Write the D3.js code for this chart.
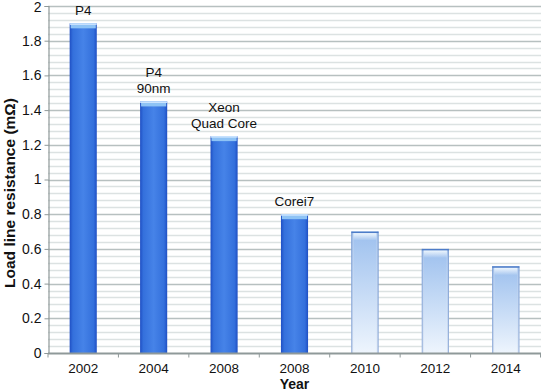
<!DOCTYPE html>
<html>
<head>
<meta charset="utf-8">
<script src="https://cdn.jsdelivr.net/npm/d3@7"></script>
<style>
  body { margin: 0; background: #fff; }
  svg { display: block; font-family: "Liberation Sans", Arial, sans-serif; }
</style>
</head>
<body>
<div id="chart"></div>
<script>
// chart data
var years = ["2002", "2004", "2008", "2008", "2010", "2012", "2014"];
var resistance = [1.9, 1.45, 1.25, 0.8, 0.7, 0.6, 0.5];
var projected = [false, false, false, false, true, true, true];
var barLabels = [["P4"], ["P4", "90nm"], ["Xeon", "Quad Core"], ["Corei7"], [], [], []];
var yTicks = [0, 0.2, 0.4, 0.6, 0.8, 1, 1.2, 1.4, 1.6, 1.8, 2];

var width = 541, height = 392;
var margin = {top: 6, right: 0, bottom: 39, left: 48};

var svg = d3.select("#chart").append("svg")
    .attr("width", width)
    .attr("height", height);

//**************************************************************************
//** Gradients
//**************************************************************************
var defs = svg.append("defs");

var dark = defs.append("linearGradient").attr("id", "darkBar")
    .attr("x1", 0).attr("x2", 1).attr("y1", 0).attr("y2", 0);
dark.append("stop").attr("offset", "0%").attr("stop-color", "#1f4fc4");
dark.append("stop").attr("offset", "12%").attr("stop-color", "#3470dc");
dark.append("stop").attr("offset", "50%").attr("stop-color", "#4683e8");
dark.append("stop").attr("offset", "88%").attr("stop-color", "#3470dc");
dark.append("stop").attr("offset", "100%").attr("stop-color", "#1f4fc4");

var light = defs.append("linearGradient").attr("id", "lightBar")
    .attr("x1", 0).attr("x2", 0).attr("y1", 0).attr("y2", 1);
light.append("stop").attr("offset", "0%").attr("stop-color", "#9dc0ee");
light.append("stop").attr("offset", "100%").attr("stop-color", "#eef5fd");

var lightEdge = defs.append("linearGradient").attr("id", "lightEdge")
    .attr("x1", 0).attr("x2", 1).attr("y1", 0).attr("y2", 0);
lightEdge.append("stop").attr("offset", "0%").attr("stop-color", "#5f86c6").attr("stop-opacity", 0.9);
lightEdge.append("stop").attr("offset", "10%").attr("stop-color", "#ffffff").attr("stop-opacity", 0);
lightEdge.append("stop").attr("offset", "90%").attr("stop-color", "#ffffff").attr("stop-opacity", 0);
lightEdge.append("stop").attr("offset", "100%").attr("stop-color", "#5f86c6").attr("stop-opacity", 0.9);

var cap = defs.append("linearGradient").attr("id", "cap")
    .attr("x1", 0).attr("x2", 0).attr("y1", 0).attr("y2", 1);
cap.append("stop").attr("offset", "0%").attr("stop-color", "#f2faff");
cap.append("stop").attr("offset", "100%").attr("stop-color", "#ffffff").attr("stop-opacity", 0);

//**************************************************************************
//** Scales
//**************************************************************************
var x = d3.scaleBand()
    .domain(d3.range(years.length))
    .range([margin.left, width - margin.right])
    .paddingInner(0.615)
    .paddingOuter(0.3075);

var band = d3.scaleBand()
    .domain(d3.range(years.length))
    .range([margin.left, width - margin.right]);

var y = d3.scaleLinear()
    .domain([0, 2])
    .range([height - margin.bottom, margin.top]);

// minor grid
var minor = d3.range(0, 2.0001, 0.04).filter(function(v){
    return Math.abs(Math.round(v / 0.2) * 0.2 - v) > 0.001;
});
svg.append("g").selectAll("line")
    .data(minor)
    .enter().append("line")
    .attr("x1", margin.left).attr("x2", width)
    .attr("y1", function(d){ return Math.round(y(d)) + 0.5; })
    .attr("y2", function(d){ return Math.round(y(d)) + 0.5; })
    .attr("stroke", "#dce2e2")
    .attr("stroke-width", 1.3);

// major grid
svg.append("g").selectAll("line")
    .data(yTicks.slice(1))
    .enter().append("line")
    .attr("x1", margin.left).attr("x2", width)
    .attr("y1", function(d){ return Math.round(y(d)) + 0.5; })
    .attr("y2", function(d){ return Math.round(y(d)) + 0.5; })
    .attr("stroke", "#b7c0c0")
    .attr("stroke-width", 1.6);

//**************************************************************************
//** Bars
//**************************************************************************
var bars = svg.append("g");
resistance.forEach(function(v, i){
    var bx = x(i), bw = x.bandwidth();
    var top = y(v), bottom = y(0);
    if (!projected[i]){
        bars.append("rect")
            .attr("x", bx).attr("y", top)
            .attr("width", bw).attr("height", bottom - top)
            .attr("fill", "url(#darkBar)");
        bars.append("rect")
            .attr("x", bx + 1).attr("y", top)
            .attr("width", bw - 2).attr("height", 5)
            .attr("fill", "#8ec3f5");
        bars.append("rect")
            .attr("x", bx).attr("y", top)
            .attr("width", bw).attr("height", 1.5)
            .attr("fill", "#cfe6ff");
    }
    else {
        bars.append("rect")
            .attr("x", bx).attr("y", top)
            .attr("width", bw).attr("height", bottom - top)
            .attr("fill", "url(#lightBar)");
        bars.append("rect")
            .attr("x", bx).attr("y", top)
            .attr("width", bw).attr("height", bottom - top)
            .attr("fill", "url(#lightEdge)");
        bars.append("rect")
            .attr("x", bx + 2).attr("y", top + 1)
            .attr("width", bw - 4).attr("height", 8)
            .attr("fill", "url(#cap)");
        bars.append("rect")
            .attr("x", bx).attr("y", top)
            .attr("width", bw).attr("height", 1.5)
            .attr("fill", "#4d7cc8");
    }
});

// labels above bars
var labels = svg.append("g")
    .attr("font-size", "13.5px")
    .attr("fill", "#111")
    .attr("text-anchor", "middle");
barLabels.forEach(function(lines, i){
    var cx = x(i) + x.bandwidth() / 2;
    var n = lines.length;
    lines.forEach(function(t, k){
        labels.append("text")
            .attr("x", cx)
            .attr("y", y(resistance[i]) - 8 - (n - 1 - k) * 16)
            .text(t);
    });
});

//**************************************************************************
//** Axes
//**************************************************************************
var yAxis = svg.append("g")
    .attr("transform", "translate(" + (margin.left + 0.5) + ",0)")
    .call(d3.axisLeft(y).tickValues(yTicks).tickSize(4).tickPadding(3)
        .tickFormat(function(d){ return d3.format("")(+d.toFixed(1)); }));
yAxis.select(".domain").attr("stroke", "#8f9999").attr("stroke-width", 1.2);
yAxis.selectAll(".tick line").attr("stroke", "#8f9999");
yAxis.selectAll(".tick text")
    .attr("font-size", "14px")
    .attr("font-family", "Liberation Sans, Arial, sans-serif")
    .attr("fill", "#111")
    .attr("dy", function(d){ return d === 2 ? "0.4em" : "0.32em"; });

var xAxis = svg.append("g")
    .attr("transform", "translate(0," + (y(0) + 0.5) + ")");
xAxis.append("line")
    .attr("x1", margin.left).attr("x2", width)
    .attr("stroke", "#8f9999").attr("stroke-width", 2);
xAxis.selectAll("line.tk")
    .data(d3.range(years.length + 1))
    .enter().append("line")
    .attr("class", "tk")
    .attr("x1", function(d){ return d < years.length ? band(d) : width - 0.5; })
    .attr("x2", function(d){ return d < years.length ? band(d) : width - 0.5; })
    .attr("y1", 0).attr("y2", 4)
    .attr("stroke", "#8f9999");
xAxis.selectAll("text")
    .data(years)
    .enter().append("text")
    .attr("x", function(d, i){ return band(i) + band.bandwidth() / 2; })
    .attr("y", 19)
    .attr("text-anchor", "middle")
    .attr("font-size", "13.5px")
    .attr("fill", "#111")
    .text(function(d){ return d; });

// axis titles
svg.append("text")
    .attr("x", (margin.left + width) / 2).attr("y", 389)
    .attr("text-anchor", "middle")
    .attr("font-size", "14px")
    .attr("font-weight", "bold")
    .attr("fill", "#111")
    .text("Year");

svg.append("text")
    .attr("transform", "translate(15,193) rotate(-90)")
    .attr("text-anchor", "middle")
    .attr("font-size", "15.5px")
    .attr("font-weight", "bold")
    .attr("fill", "#111")
    .text("Load line resistance (mΩ)");
</script>
</body>
</html>
